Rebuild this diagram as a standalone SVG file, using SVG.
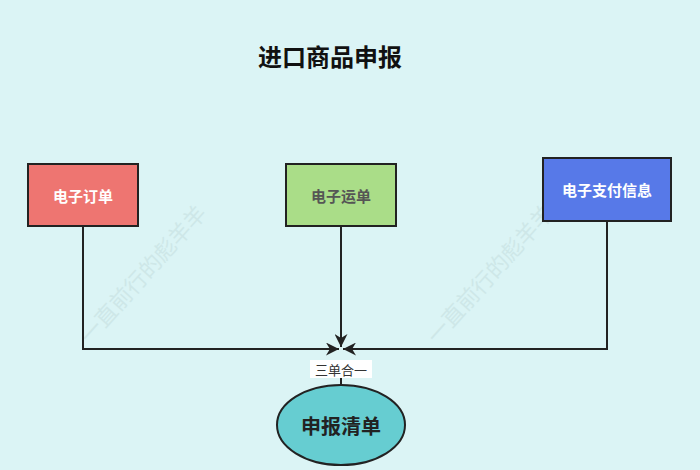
<svg xmlns="http://www.w3.org/2000/svg" width="700" height="470" viewBox="0 0 700 470">
<style>
.box{stroke:#222;stroke-width:2}
.lbl{font-family:"Noto Sans CJK SC","Noto Sans",sans-serif;font-size:15px;font-weight:bold;text-anchor:middle;dominant-baseline:central}
.edge{fill:none;stroke:#222;stroke-width:2}
.wm{font-family:"Noto Sans CJK SC",sans-serif;font-size:22px;fill:#c4dede;opacity:0.55}
</style>
<defs>
<marker id="arr" viewBox="0 0 10 10" refX="10" refY="5" markerWidth="13" markerHeight="13" orient="auto-start-reverse" markerUnits="userSpaceOnUse">
<path d="M0,0 L10,5 L0,10 L3,5 Z" fill="#222"/>
</marker>
</defs>
<rect width="700" height="470" fill="#dbf4f5"/>
<text class="wm" transform="translate(90,345) rotate(-48)">一直前行的彪羊羊</text>
<text class="wm" transform="translate(437,345) rotate(-48)">一直前行的彪羊羊</text>
<text x="330" y="55" style="font-family:'Noto Sans CJK SC',sans-serif;font-size:24px;font-weight:bold;text-anchor:middle;dominant-baseline:central" fill="#111">进口商品申报</text>
<g id="edges">
<path class="edge" d="M83,226 V349 H339" marker-end="url(#arr)"/>
<path class="edge" d="M341,226 V347" marker-end="url(#arr)"/>
<path class="edge" d="M607,221 V349 H343" marker-end="url(#arr)"/>
<path class="edge" d="M341,377 V386"/>
<rect x="310" y="360" width="62" height="18" fill="#fff"/>
<text class="lbl" x="341" y="369" fill="#333" style="font-size:13px;font-weight:normal">三单合一</text>
</g>
<g id="order">
<rect class="box" x="28" y="164" width="110" height="62" fill="#ee7571"/>
<text class="lbl" x="83" y="195" fill="#fff">电子订单</text>
</g>
<g id="waybill">
<rect class="box" x="286" y="164" width="110" height="62" fill="#aadd88"/>
<text class="lbl" x="341" y="195" fill="#555">电子运单</text>
</g>
<g id="payment">
<rect class="box" x="543" y="158" width="128" height="63" fill="#5779e8"/>
<text class="lbl" x="607" y="189" fill="#fff">电子支付信息</text>
</g>
<g id="declaration">
<ellipse class="box" cx="341" cy="425" rx="64" ry="40" fill="#66cdd1"/>
<text class="lbl" x="341" y="425" fill="#222" style="font-size:20px">申报清单</text>
</g>
</svg>
